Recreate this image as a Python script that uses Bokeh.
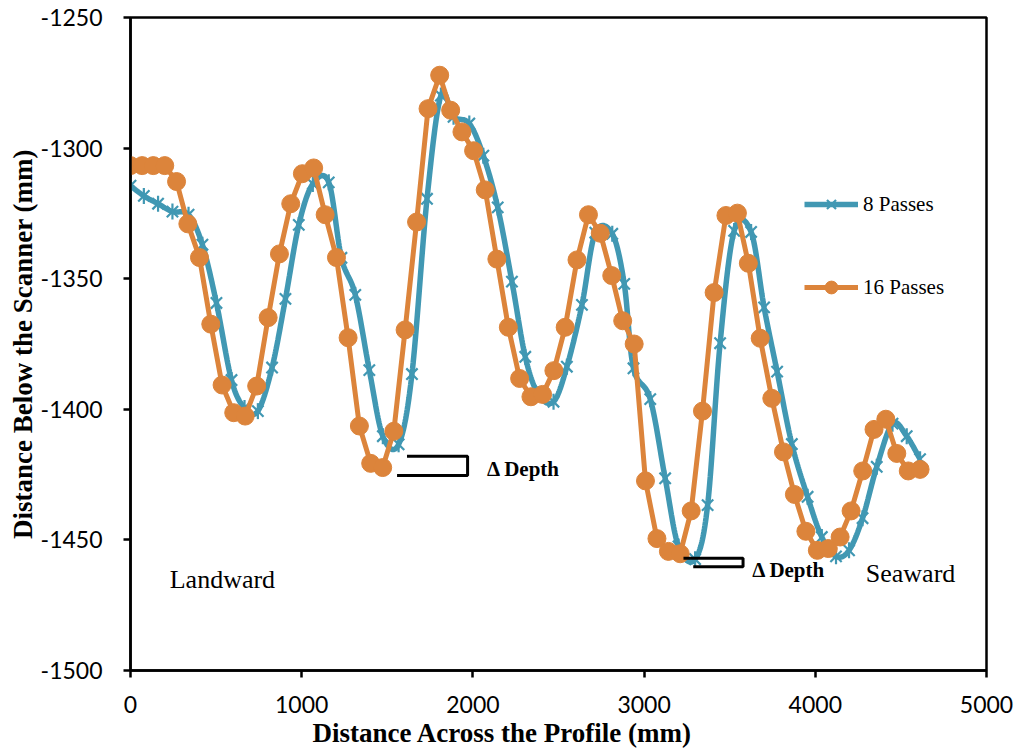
import numpy as np
from bokeh.plotting import figure
from bokeh.models import Range1d, FixedTicker, Label, Legend, LegendItem, ColumnDataSource, Title
from bokeh.embed import file_html
from bokeh.resources import INLINE

# ---------------- data ----------------
x_8 = [0, 78, 161, 245, 339, 420, 502, 590, 666, 744, 827, 905, 983, 1065, 1158, 1232,
       1313, 1395, 1474, 1566, 1644, 1732, 1813, 1887, 1979, 2061, 2145, 2228, 2306, 2382,
       2471, 2549, 2637, 2715, 2814, 2884, 2938, 3036, 3123, 3201, 3298, 3371, 3444, 3526,
       3625, 3701, 3777, 3863, 3955, 4038, 4121, 4197, 4276, 4359, 4451, 4534, 4612]
y_8 = [-1314.4, -1318.3, -1321.3, -1324.3, -1325.5, -1337.0, -1359.3, -1388.8, -1399.5,
       -1400.7, -1384.0, -1357.7, -1329.4, -1313.7, -1313.1, -1342.0, -1356.2, -1385.0,
       -1410.3, -1413.4, -1386.5, -1319.4, -1279.9, -1288.0, -1290.6, -1302.9, -1322.7,
       -1351.1, -1379.9, -1394.2, -1397.1, -1383.7, -1360.0, -1332.4, -1332.8, -1352.0,
       -1384.3, -1396.1, -1426.4, -1452.5, -1457.4, -1436.7, -1374.7, -1331.7, -1332.1,
       -1361.0, -1385.6, -1413.3, -1433.5, -1448.9, -1456.3, -1454.0, -1441.7, -1422.0,
       -1405.5, -1410.3, -1419.1]

x_16 = [0, 68, 133, 200, 269, 335, 403, 469, 535, 603, 670, 737, 804, 870, 936, 1004,
        1070, 1137, 1203, 1271, 1337, 1403, 1473, 1538, 1604, 1671, 1738, 1806, 1870, 1936,
        2004, 2072, 2140, 2207, 2273, 2339, 2407, 2473, 2539, 2608, 2675, 2744, 2811, 2875,
        2942, 3008, 3075, 3142, 3211, 3275, 3341, 3409, 3478, 3545, 3609, 3678, 3746, 3814,
        3878, 3945, 4012, 4076, 4145, 4209, 4277, 4343, 4412, 4476, 4543, 4612]
y_16 = [-1306.7, -1306.7, -1306.7, -1306.7, -1312.8, -1329.0, -1341.9, -1367.4, -1390.7,
        -1401.3, -1402.6, -1391.1, -1364.9, -1340.5, -1321.3, -1309.8, -1307.6, -1325.5,
        -1341.9, -1372.6, -1406.4, -1420.7, -1422.3, -1408.4, -1369.6, -1328.3, -1284.9,
        -1272.1, -1285.5, -1293.8, -1301.0, -1316.0, -1342.5, -1368.6, -1388.2, -1395.2,
        -1394.3, -1385.2, -1368.6, -1342.8, -1325.5, -1332.6, -1348.8, -1366.1, -1375.0,
        -1427.4, -1449.5, -1454.4, -1455.3, -1438.9, -1400.7, -1355.3, -1325.8, -1324.9,
        -1344.1, -1372.8, -1395.8, -1416.3, -1432.6, -1446.7, -1454.0, -1453.3, -1448.9,
        -1438.9, -1423.6, -1407.7, -1403.8, -1416.9, -1423.6, -1423.0]

x_ticks = [0, 1000, 2000, 3000, 4000, 5000]
y_ticks = [-1500, -1450, -1400, -1350, -1300, -1250]
y_tick_labels = ["-1500", "-1450", "-1400", "-1350", "-1300", "-1250"]
series_names = ["8 Passes", "16 Passes"]

BLUE = "#4198B3"
ORANGE = "#DC843B"


def smooth_curve(xs, ys, n=24):
    """Excel-like smoothed line: cubic Bezier through the points (Catmull-Rom, 1/6)."""
    P = np.column_stack([xs, ys]).astype(float)
    out = []
    m = len(P)
    t = np.linspace(0, 1, n)[:, None]
    for i in range(m - 1):
        p0 = P[i - 1] if i > 0 else P[i]
        p1 = P[i]
        p2 = P[i + 1]
        p3 = P[i + 2] if i + 2 < m else P[i + 1]
        c1 = p1 + (p2 - p0) / 6.0
        c2 = p2 - (p3 - p1) / 6.0
        seg = ((1 - t) ** 3) * p1 + 3 * ((1 - t) ** 2) * t * c1 + 3 * (1 - t) * t ** 2 * c2 + t ** 3 * p2
        out.append(seg if i == 0 else seg[1:])
    arr = np.vstack(out)
    return arr[:, 0], arr[:, 1]


p = figure(width=1019, height=752, output_backend="svg", toolbar_location=None,
           x_range=Range1d(0, 5000), y_range=Range1d(-1500, -1250),
           min_border_left=130, min_border_right=33, min_border_top=17, min_border_bottom=82)

p.background_fill_color = "white"
p.border_fill_color = "white"
p.outline_line_color = "black"
p.outline_line_width = 2.5
p.xgrid.visible = False
p.ygrid.visible = False

for ax in (p.xaxis[0], p.yaxis[0]):
    ax.axis_line_color = "black"
    ax.axis_line_width = 2.5
    ax.major_tick_line_color = "black"
    ax.major_tick_line_width = 2.5
    ax.major_tick_out = 7
    ax.major_tick_in = 0
    ax.minor_tick_line_color = None
    ax.major_label_text_font = "Lato"
    ax.major_label_text_font_size = "23px"
    ax.major_label_text_color = "black"
    ax.axis_label_text_font = "Liberation Serif"
    ax.axis_label_text_font_style = "bold"
    ax.axis_label_text_font_size = "27px"
    ax.axis_label_text_color = "black"

p.xaxis.ticker = FixedTicker(ticks=x_ticks)
p.yaxis.ticker = FixedTicker(ticks=y_ticks)
p.yaxis.major_label_overrides = {v: s for v, s in zip(y_ticks, y_tick_labels)}
p.yaxis.axis_label = "Distance Below the Scanner (mm)"
p.xaxis.major_label_standoff = 18
p.yaxis.major_label_standoff = 21
p.yaxis.axis_label_standoff = 0

# x-axis title (off-centre in the original), as a left-aligned title below the axis
p.add_layout(Title(text="Distance Across the Profile (mm)", align="left", offset=182,
                   standoff=0, text_font="Liberation Serif", text_font_style="bold",
                   text_font_size="27px", text_color="black"), "below")

# 8 passes: smoothed line with star markers
sx, sy = smooth_curve(x_8, y_8)
src8 = ColumnDataSource(dict(x=x_8, y=y_8))
r8_line = p.line(sx, sy, line_color=BLUE, line_width=5.5)
r8_x = p.scatter("x", "y", source=src8, marker="x", size=16, line_color=BLUE, line_width=2.2)
r8_v = p.scatter("x", "y", source=src8, marker="dash", angle=np.pi / 2, size=16,
                 line_color=BLUE, line_width=2.2)

# 16 passes: line with circle markers
src16 = ColumnDataSource(dict(x=x_16, y=y_16))
r16_line = p.line("x", "y", source=src16, line_color=ORANGE, line_width=5)
r16_m = p.scatter("x", "y", source=src16, marker="circle", size=18,
                  fill_color=ORANGE, line_color=ORANGE)

# Delta-depth brackets
p.line([1615, 1969, 1969, 1557], [-1418.0, -1418.0, -1425.3, -1425.3],
       line_color="black", line_width=3)
p.line([3230, 3578, 3578, 3287], [-1457.0, -1457.0, -1460.3, -1460.3],
       line_color="black", line_width=3)


def add_label(x, y, text, size, style="normal", align="left"):
    p.add_layout(Label(x=x, y=y, text=text, text_font="Liberation Serif",
                       text_font_size=size, text_font_style=style, text_color="black",
                       text_align=align, text_baseline="alphabetic"))


add_label(229, -1465.0, "Landward", "26px")
add_label(4295, -1463.0, "Seaward", "26px")
add_label(2082, -1422.8, "\u0394 Depth", "21px", "bold")
add_label(3631, -1461.7, "\u0394 Depth", "21px", "bold")

legend = Legend(items=[LegendItem(label=series_names[0], renderers=[r8_line, r8_x, r8_v]),
                       LegendItem(label=series_names[1], renderers=[r16_line, r16_m])],
                location=(674, 367), orientation="vertical",
                glyph_width=54, glyph_height=32, label_height=32, label_standoff=5,
                spacing=51, padding=0, margin=0,
                label_text_font="Liberation Serif", label_text_font_size="21px",
                label_text_color="black", border_line_color=None,
                background_fill_alpha=0)
p.add_layout(legend)

open("out.html", "w").write(file_html(p, INLINE))
